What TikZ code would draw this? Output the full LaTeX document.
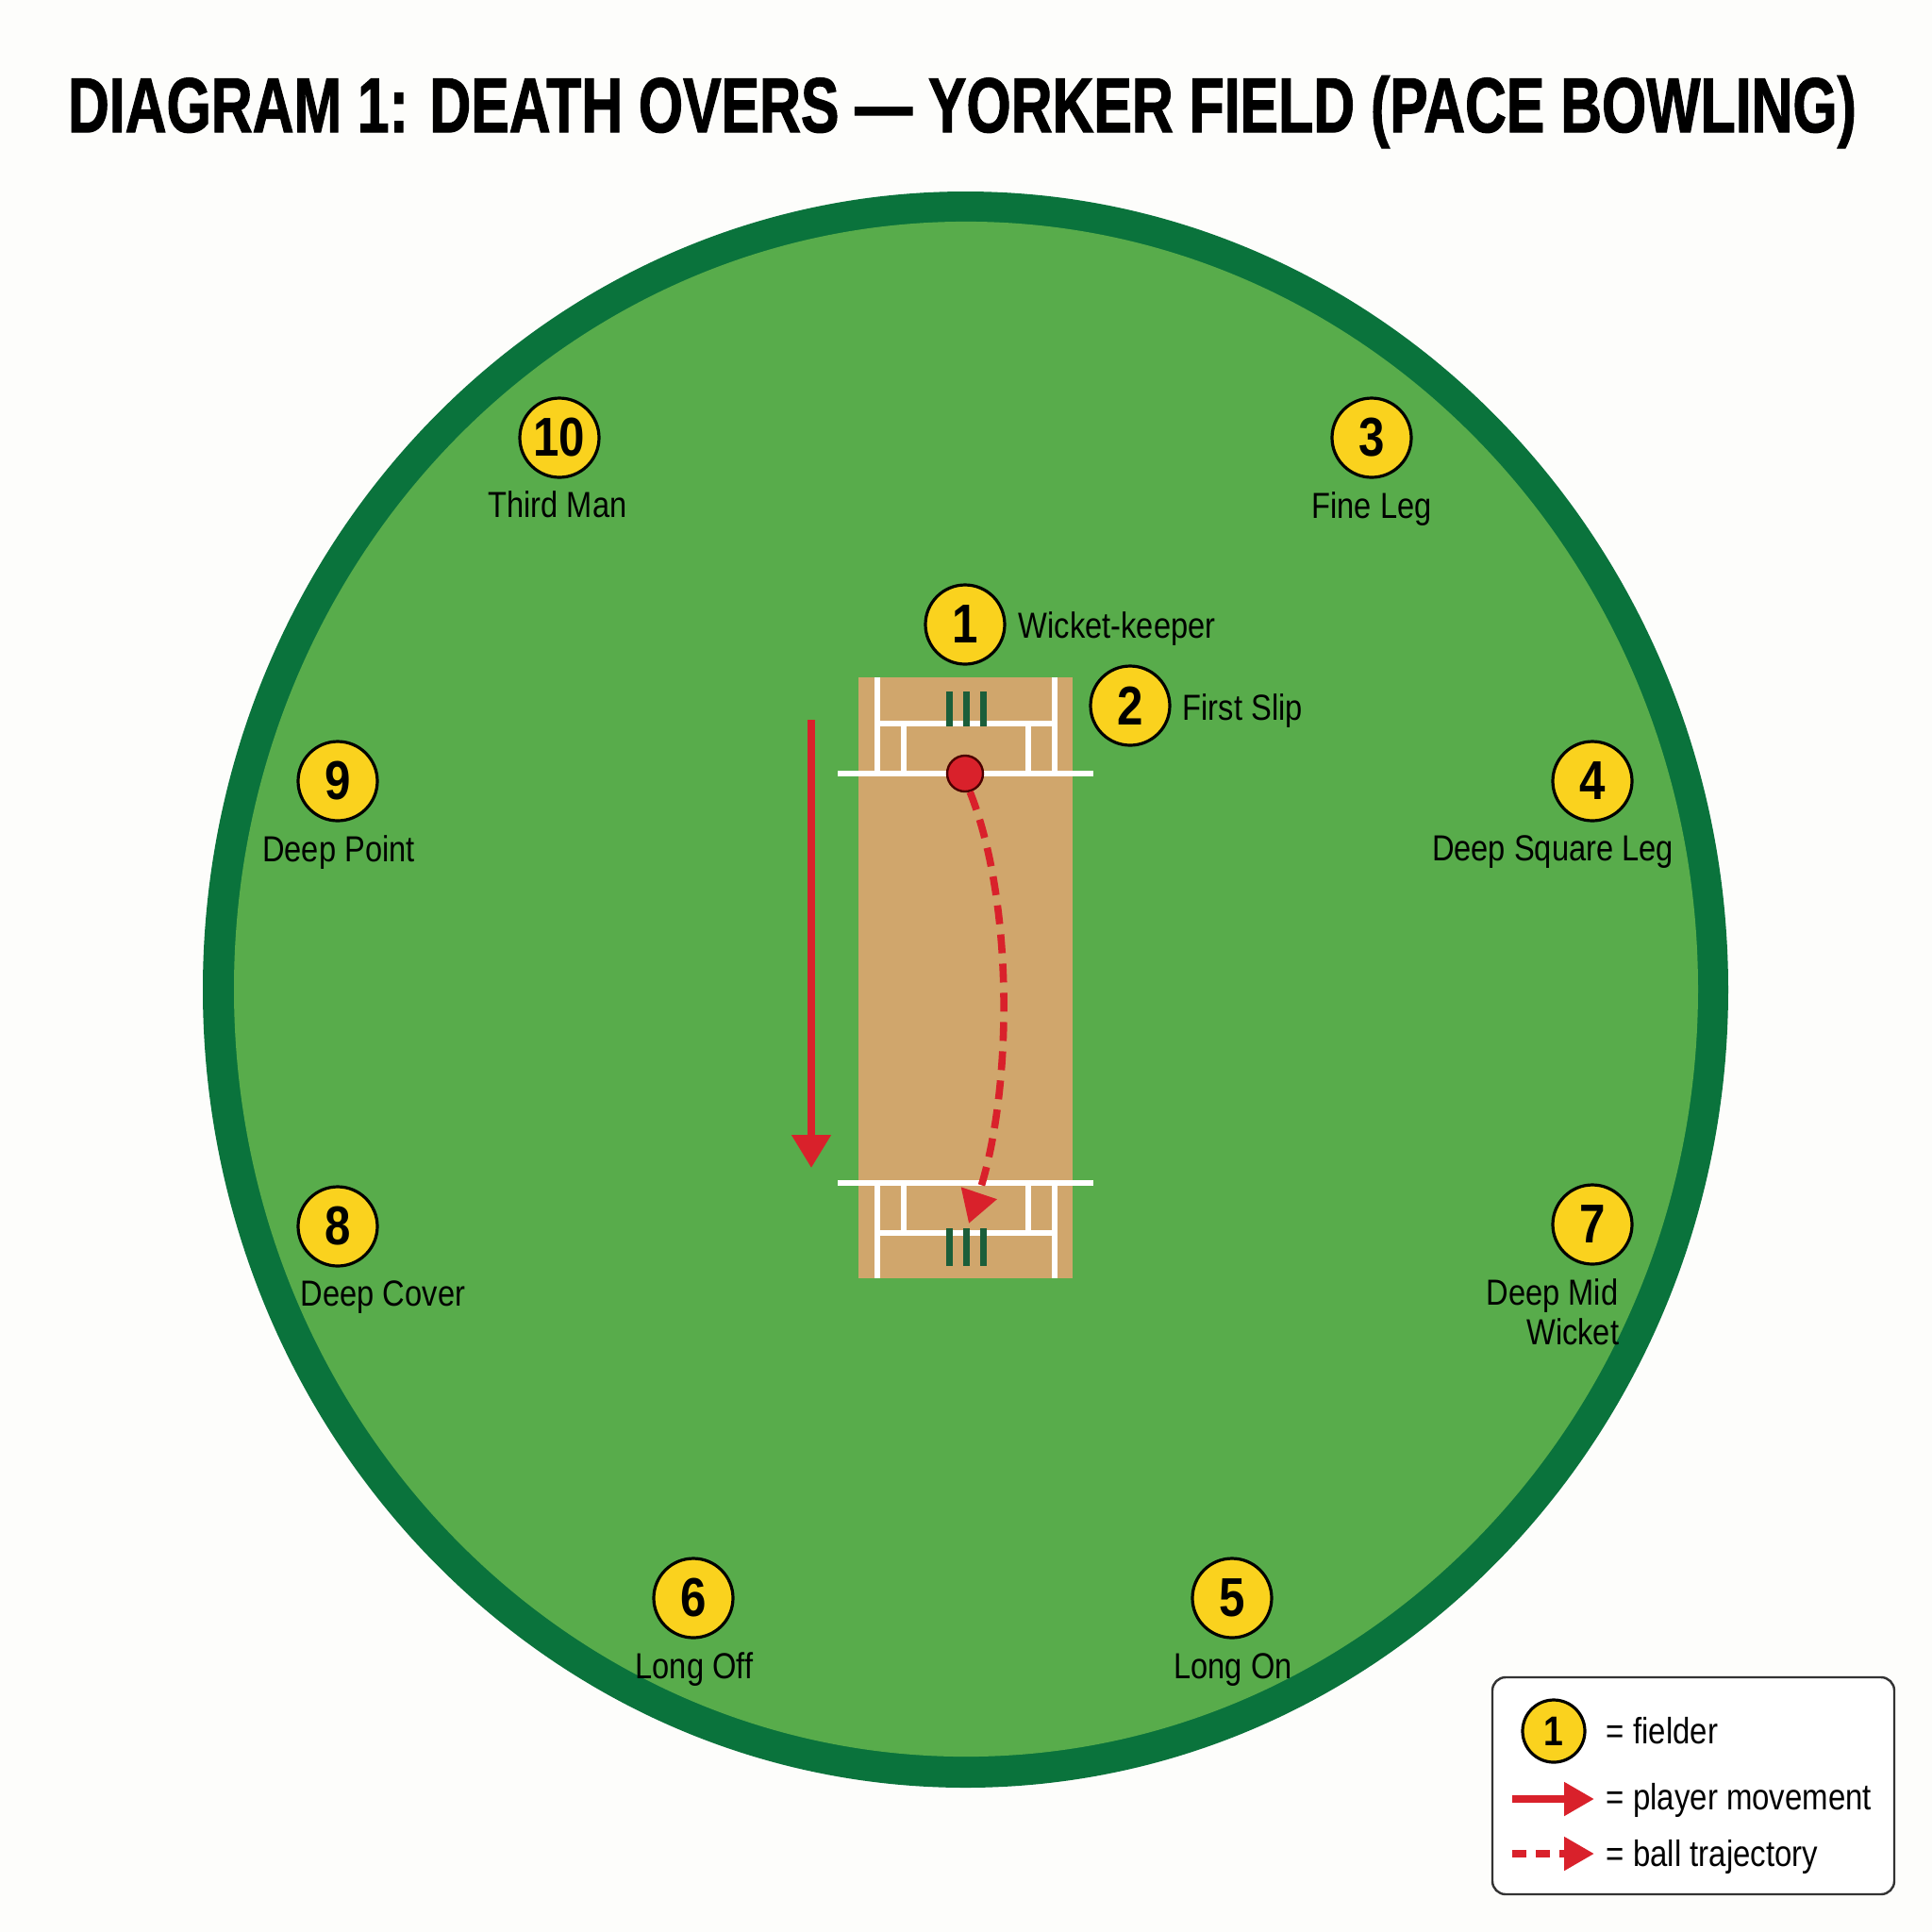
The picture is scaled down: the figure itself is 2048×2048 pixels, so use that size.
\documentclass[tikz,border=0pt]{standalone}
\usepackage{fontspec}
\usepackage{graphicx}
\usetikzlibrary{arrows.meta}
\newfontfamily\lblfont[FakeStretch=0.85]{Liberation Sans}
\newfontfamily\ttlfont[FakeBold=1.6]{Liberation Sans}
\definecolor{bgc}{HTML}{FDFDFB}
\definecolor{dkgreen}{HTML}{0A733C}
\definecolor{ltgreen}{HTML}{58AC4B}
\definecolor{pitchc}{HTML}{D0A66C}
\definecolor{fyellow}{HTML}{FAD21E}
\definecolor{fred}{HTML}{D9212B}
\definecolor{stumpc}{HTML}{1B5E3A}
\definecolor{legendgray}{HTML}{333333}
\begin{document}
\begin{tikzpicture}[x=0.25pt,y=-0.25pt,
  fielder/.style={circle, fill=fyellow, draw=black, line width=0.8pt, minimum size=21pt, inner sep=0pt,
    font=\lblfont\bfseries\fontsize{14.5pt}{14.5pt}\selectfont},
  lfielder/.style={fielder, minimum size=16.5pt, font=\lblfont\bfseries\fontsize{11pt}{11pt}\selectfont},
  lbl/.style={font=\lblfont\fontsize{9.6pt}{10.5pt}\selectfont, inner sep=0pt, anchor=base},
  legtext/.style={font=\lblfont\fontsize{9.7pt}{11pt}\selectfont, inner sep=0pt, anchor=base west},
  crease/.style={draw=white, line width=1.3pt},
  stumpbar/.style={fill=stumpc},
  move/.style={draw=fred, line width=2pt, -{Triangle[length=8.75pt,width=10pt]}},
  traj/.style={draw=fred, line width=1.9pt, dash pattern=on 5pt off 2.75pt, -{Triangle[length=8.5pt,width=9.5pt]}},
  legmove/.style={draw=fred, line width=2pt, -{Triangle[length=8pt,width=8.5pt]}},
  legtraj/.style={draw=fred, line width=2pt, dash pattern=on 3.75pt off 2.5pt, -{Triangle[length=8pt,width=8.5pt]}}
]
% background / bounding box
\fill[bgc] (0,0) rectangle (2048,2048);
\useasboundingbox (0,0) rectangle (2048,2048);

% title
\node[inner sep=0pt, anchor=base] (title) at (1020,140)
  {\resizebox{474pt}{14.9pt}{\ttlfont\bfseries DIAGRAM 1: DEATH OVERS — YORKER FIELD (PACE BOWLING)}};

% field
\fill[dkgreen] (1023.5,1049) ellipse [x radius=202.125pt, y radius=211.5pt];
\fill[ltgreen] (1024,1048.5) ellipse [x radius=194pt, y radius=203.4pt];

% pitch
\fill[pitchc] (910,718) rectangle (1137,1355);
% top end
\draw[crease] (888,820) -- (1159,820);
\draw[crease] (930,767) -- (1118,767);
\draw[crease] (930,718) -- (930,820);
\draw[crease] (1118,718) -- (1118,820);
\draw[crease] (958,767) -- (958,820);
\draw[crease] (1090,767) -- (1090,820);
% bottom end
\draw[crease] (888,1254) -- (1159,1254);
\draw[crease] (930,1307) -- (1118,1307);
\draw[crease] (930,1254) -- (930,1355);
\draw[crease] (1118,1254) -- (1118,1355);
\draw[crease] (958,1254) -- (958,1307);
\draw[crease] (1090,1254) -- (1090,1307);
% stumps
\foreach \sx in {1006,1024,1042}{
  \fill[stumpbar] (\sx-3.5,733) rectangle (\sx+3.5,770);
  \fill[stumpbar] (\sx-3.5,1302) rectangle (\sx+3.5,1342);
}

% ball and trajectory
\node[circle, fill=fred, draw=black!70!red, line width=0.6pt, minimum size=9.5pt, inner sep=0pt] (ball) at (1023,820) {};
\coordinate (balltarget) at (1027,1297);
\draw[traj] (ball.-75) .. controls (1076,960) and (1073,1160) .. (balltarget);

% player movement
\coordinate (movestart) at (860,763);
\coordinate (moveend) at (860,1238);
\draw[move] (movestart) -- (moveend);

% fielders
\node[fielder] (f10) at (593,464) {10};
\node[lbl] (l10) at (591,548) {Third Man};
\node[fielder] (f3) at (1454,464) {3};
\node[lbl] (l3) at (1454,549) {Fine Leg};
\node[fielder] (f1) at (1023,662) {1};
\node[lbl, anchor=base west] (l1) at (1079,676) {Wicket-keeper};
\node[fielder] (f2) at (1198,748) {2};
\node[lbl, anchor=base west] (l2) at (1253,763) {First Slip};
\node[fielder] (f9) at (358,828) {9};
\node[lbl] (l9) at (359,913) {Deep Point};
\node[fielder] (f4) at (1688,828) {4};
\node[lbl] (l4) at (1646,912) {Deep Square Leg};
\node[fielder] (f8) at (358,1300) {8};
\node[lbl] (l8) at (406,1384) {Deep Cover};
\node[fielder] (f7) at (1688,1298) {7};
\node[lbl, anchor=base east] (l7a) at (1716,1383) {Deep Mid};
\node[lbl, anchor=base east] (l7b) at (1717,1425) {Wicket};
\node[fielder] (f6) at (735,1694) {6};
\node[lbl] (l6) at (736,1779) {Long Off};
\node[fielder] (f5) at (1306,1694) {5};
\node[lbl] (l5) at (1307,1779) {Long On};

% legend
\draw[draw=legendgray, fill=white, line width=0.6pt, rounded corners=3.5pt] (1582,1778) rectangle (2008,2008);
\node[lfielder] (legf) at (1647,1835) {1};
\node[legtext] (legt1) at (1702,1848) {= fielder};
\coordinate (lm1) at (1603,1907);
\coordinate (lm2) at (1690,1907);
\draw[legmove] (lm1) -- (lm2);
\node[legtext] (legt2) at (1702,1918) {= player movement};
\coordinate (lt1) at (1603,1965);
\coordinate (lt2) at (1690,1965);
\draw[legtraj] (lt1) -- (lt2);
\node[legtext] (legt3) at (1702,1978) {= ball trajectory};
\end{tikzpicture}
\end{document}
